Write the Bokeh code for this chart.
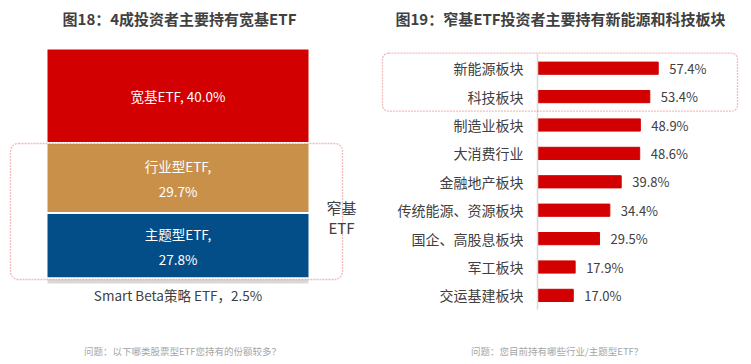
import numpy as np
from bokeh.plotting import figure
from bokeh.layouts import row
from bokeh.models import BoxAnnotation, Range1d
from bokeh.core.properties import value
from bokeh.embed import file_html
from bokeh.resources import INLINE

# ---------------- data ----------------
left_title = "图18：4成投资者主要持有宽基ETF"
right_title = "图19：窄基ETF投资者主要持有新能源和科技板块"
etf_types = ["宽基ETF", "行业型ETF", "主题型ETF", "Smart Beta策略 ETF"]
etf_shares = [40.0, 29.7, 27.8, 2.5]
narrow_words = ["窄基", "ETF"]
sectors = ["新能源板块", "科技板块", "制造业板块", "大消费行业", "金融地产板块",
           "传统能源、资源板块", "国企、高股息板块", "军工板块", "交运基建板块"]
sector_shares = [57.4, 53.4, 48.9, 48.6, 39.8, 34.4, 29.5, 17.9, 17.0]
left_note = "问题：以下哪类股票型ETF您持有的份额较多？"
right_note = "问题：您目前持有哪些行业/主题型ETF？"

# ---------------- style ----------------
FONT = value("Noto Sans CJK SC")
TXT = "#404040"
NOTE = "#A6A6A6"
RED = "#D20000"
etf_colors = ["#D20000", "#C9904A", "#034E89", "#D9D9D9"]
BOX_LINE = "#D81E1E"

# ================= left chart =================
LW, LH = 375, 364
bar_left_px, bar_right_px = 46, 309
bar_top_px, bar_bot_px = 48, 284
lppx = (bar_right_px - bar_left_px) / 1.0
lppy = (bar_bot_px - bar_top_px) / 100.0
lxr = Range1d(-0.5 - bar_left_px / lppx, 0.5 + (LW - bar_right_px) / lppx)
lyr = Range1d(-(LH - bar_bot_px) / lppy, 100 + bar_top_px / lppy)


def lx(px):
    return lxr.start + px / lppx


def ly(py):
    return lyr.end - py / lppy


p1 = figure(width=LW, height=LH, x_range=lxr, y_range=lyr, output_backend="svg",
            toolbar_location=None, x_axis_location=None, y_axis_location=None,
            min_border=0, outline_line_color=None)
p1.grid.visible = False

# stacking from the bottom: last item at the bottom
rev = etf_shares[::-1]
tops_rev = np.cumsum(rev)
bottoms_rev = tops_rev - np.array(rev)
tops = list(tops_rev[::-1])
bottoms = list(bottoms_rev[::-1])

p1.vbar(x=[0] * len(etf_shares), width=1.0, top=tops, bottom=bottoms,
        fill_color=etf_colors, line_color="white", line_width=2)

mids = [(t + b) / 2 for t, b in zip(tops, bottoms)]
# 宽基: single line
p1.text(x=[0], y=[mids[0]], text=[f"{etf_types[0]}, {etf_shares[0]:.1f}%"],
        text_font=FONT, text_font_size="13.5px", text_color="white",
        text_align="center", text_baseline="middle")
# 行业 / 主题: two lines
for i in (1, 2):
    p1.text(x=[0], y=[mids[i]], text=[f"{etf_types[i]},"], y_offset=-12,
            text_font=FONT, text_font_size="13.5px", text_color="white",
            text_align="center", text_baseline="middle")
    p1.text(x=[0], y=[mids[i]], text=[f"{etf_shares[i]:.1f}%"], y_offset=13,
            text_font=FONT, text_font_size="13.5px", text_color="white",
            text_align="center", text_baseline="middle")
# Smart Beta below the bar
p1.text(x=[0], y=[bottoms[3]], text=[f"{etf_types[3]}，{etf_shares[3]:.1f}%"], y_offset=10,
        text_font=FONT, text_font_size="13.5px", text_color=TXT,
        text_align="center", text_baseline="middle")

# 窄基 ETF label
p1.text(x=[lx(341), lx(341)], y=[ly(207), ly(227)], text=narrow_words,
        text_font=FONT, text_font_size="15px", text_color=TXT,
        text_align="center", text_baseline="middle")

p1.add_layout(BoxAnnotation(left=lx(10), right=lx(342), top=ly(143), bottom=ly(279),
                            fill_color=None, fill_alpha=0, line_color=BOX_LINE,
                            line_width=1.3, line_dash="2 1", border_radius=8))

p1.text(x=[lx(179)], y=[ly(18)], text=[left_title], text_font=FONT,
        text_font_size="15px", text_font_style="bold", text_color=TXT,
        text_align="center", text_baseline="middle")
p1.text(x=[lx(182)], y=[ly(350)], text=[left_note], text_font=FONT,
        text_font_size="9.5px", text_color=NOTE,
        text_align="center", text_baseline="middle")

# ================= right chart =================
RW, RH = 376, 364
axis_px = 162
rppx = 2.103
row_px = 28.4
first_center_py = 67.7
rxr = Range1d(-axis_px / rppx, (RW - axis_px) / rppx)
top_val = first_center_py / row_px
ryr = Range1d(top_val - RH / row_px, top_val)


def rx(px):
    return rxr.start + px / rppx


def ry(py):
    return top_val - py / row_px


p2 = figure(width=RW, height=RH, x_range=rxr, y_range=ryr, output_backend="svg",
            toolbar_location=None, x_axis_location=None, y_axis_location=None,
            min_border=0, outline_line_color=None)
p2.grid.visible = False

ys = [-i for i in range(len(sectors))]
p2.hbar(y=ys, left=0, right=sector_shares, height=0.43, fill_color=RED, line_color=RED)
p2.segment(x0=[0], y0=[0.5], x1=[0], y1=[-(len(sectors) - 1) - 0.5],
           line_color="#D9D9D9", line_width=1.5)

p2.text(x=[0] * len(sectors), y=ys, text=sectors, x_offset=-14,
        text_font=FONT, text_font_size="14px", text_color=TXT,
        text_align="right", text_baseline="middle")
p2.text(x=sector_shares, y=ys, text=[f"{v:.1f}%" for v in sector_shares], x_offset=11,
        text_font=FONT, text_font_size="13px", text_color=TXT,
        text_align="left", text_baseline="middle")

p2.add_layout(BoxAnnotation(left=rx(7), right=rx(362), top=ry(52.7), bottom=ry(110.7),
                            fill_color=None, fill_alpha=0, line_color=BOX_LINE,
                            line_width=1.3, line_dash="2 1", border_radius=6))

p2.text(x=[rx(185)], y=[ry(18)], text=[right_title], text_font=FONT,
        text_font_size="15px", text_font_style="bold", text_color=TXT,
        text_align="center", text_baseline="middle")
p2.text(x=[rx(181.7)], y=[ry(350.7)], text=[right_note], text_font=FONT,
        text_font_size="9.5px", text_color=NOTE,
        text_align="center", text_baseline="middle")

layout = row(p1, p2)
open("out.html", "w").write(file_html(layout, INLINE))
